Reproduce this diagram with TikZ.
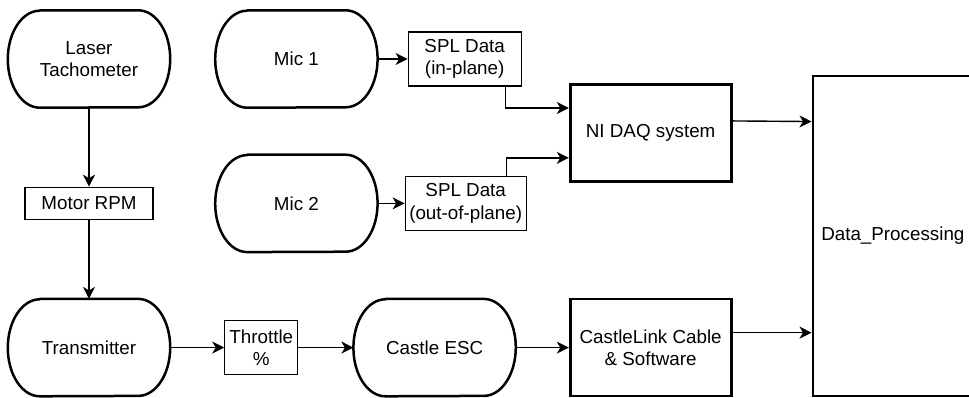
\documentclass[tikz,border=0pt]{standalone}
\usepackage{fontspec}
\setmainfont{Liberation Sans}
\usetikzlibrary{arrows.meta, positioning, calc}

\begin{document}
\begin{tikzpicture}[font=\fontsize{18.8}{22.3}\selectfont, node distance=79pt]
    \tikzstyle{term} = [rectangle, minimum width=162pt, minimum height=97pt, text centered, align=center]
    \tikzstyle{termline} = [line width=2.5pt, line join=round]
    \tikzstyle{data} = [rectangle, draw, line width=1.2pt, minimum height=54pt, inner sep=2pt, align=center]
    \tikzstyle{unit} = [rectangle, draw, line width=2.7pt, minimum width=161pt, minimum height=97pt, align=center]
    \tikzstyle{flow} = [-{Stealth[length=12pt, width=12pt, inset=3.5pt]}, line width=1.4pt]

    \useasboundingbox (0,0) rectangle (969pt,-398pt);

    \node (laser)    [term] at (89pt,-59pt) {Laser\\Tachometer};
    \node (rpm)      [data, below=79pt of laser, minimum width=128pt, minimum height=32pt] {Motor RPM};
    \node (trans)    [term, below=79pt of rpm] {Transmitter};
    \node (throttle) [data, right=54pt of trans, minimum width=73pt] {Throttle\\\%};
    \node (esc)      [term, right=55pt of throttle] {Castle ESC};
    \node (cable)    [unit, right=53pt of esc] {CastleLink Cable\\\& Software};
    \node (dp)       [unit, right=79pt of cable.south east, anchor=south west,
                      minimum width=160pt, minimum height=320pt] {Data\_Processing};
    \node (daq)      [unit, above=115pt of cable] {NI DAQ system};
    \node (mic1)     [term, right=45pt of laser] {Mic 1};
    \node (mic2)     [term, below=47pt of mic1] {Mic 2};
    \node (splin)    [data, right=30pt of mic1, minimum width=113pt] {SPL Data\\(in-plane)};
    \node (splout)   [data, right=27pt of mic2, minimum width=121pt] {SPL Data\\(out-of-plane)};

    % terminator outlines
    \foreach \n in {laser, mic1, mic2, trans, esc}
      \draw [termline] ([xshift=32pt]\n.north west) -- ([xshift=-32pt]\n.north east)
        arc [start angle=90, end angle=-90, x radius=32pt, y radius=48.5pt]
        -- ([xshift=32pt]\n.south west)
        arc [start angle=270, end angle=90, x radius=32pt, y radius=48.5pt] -- cycle;

    \draw [flow] (laser) -- (rpm);
    \draw [flow] (rpm) -- (trans);
    \draw [flow] (trans) -- (throttle);
    \draw [flow] (throttle) -- (esc);
    \draw [flow] (esc) -- (cable);
    \draw [flow] (mic1) -- (splin);
    \draw [flow] (mic2) -- (splout);
    \draw [flow] ([xshift=41pt]splin.south) |- ($(daq.north west)!0.25!(daq.south west)$);
    \draw [flow] ([xshift=41pt]splout.north) |- ($(daq.north west)!0.75!(daq.south west)$);
    \draw [flow] ($(daq.north east)!0.38!(daq.south east)$) -- ($(dp.north west)!0.145!(dp.south west)$);
    \draw [flow] ($(cable.north east)!0.35!(cable.south east)$) coordinate (linkout) -- (linkout -| dp.west);
\end{tikzpicture}
\end{document}
